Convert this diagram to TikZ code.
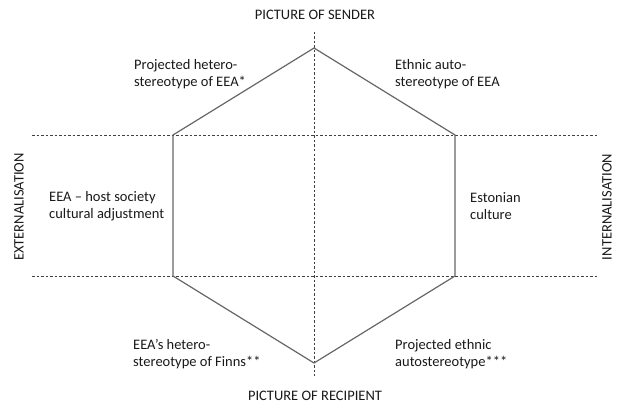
\documentclass[tikz,border=0pt]{standalone}
\usepackage{fontspec}
\setmainfont{Carlito}
\begin{document}
\begin{tikzpicture}[
                                x = 1pt,
                                y = -1pt,
                                font = \fontsize{14.5}{17}\selectfont,
                                text = black!90
                                ]

                                \tikzstyle{edge}=[
                                        draw = black!60,
                                        line width = 1.2pt
                                ]
                                \tikzstyle{guide}=[
                                        draw = black!75,
                                        line width = 0.8pt,
                                        dash pattern = on 2.5pt off 2pt
                                ]
                                \tikzstyle{txt}=[
                                        align = left,
                                        anchor = west,
                                        inner sep = 0pt
                                ]
                                \tikzstyle{pole}=[
                                        inner sep = 0pt
                                ]

                                \useasboundingbox (0,0) rectangle (617,406);

                                \coordinate (t) at (314,48);
                                \coordinate (tr) at (455,135);
                                \coordinate (br) at (455,276);
                                \coordinate (b) at (314,363);
                                \coordinate (bl) at (173,276);
                                \coordinate (tl) at (173,135);

                                \coordinate (v1) at (314,32);
                                \coordinate (v2) at (314,376);
                                \coordinate (h1) at (32,135);
                                \coordinate (h2) at (597,135);
                                \coordinate (h3) at (32,276);
                                \coordinate (h4) at (597,276);

                                \node[pole] (sender) at (315,15) {PICTURE OF SENDER};
                                \node[pole] (recipient) at (315,396) {PICTURE OF RECIPIENT};
                                \node[pole, rotate=90] (ext) at (19,207) {EXTERNALISATION};
                                \node[pole, rotate=90] (int) at (607,207) {INTERNALISATION};

                                \node[txt] (1) at (134,74) {Projected hetero-\\stereotype of EEA*};
                                \node[txt] (2) at (395,74) {Ethnic auto-\\stereotype of EEA};
                                \node[txt] (3) at (49,206) {EEA -- host society\\cultural adjustment};
                                \node[txt] (4) at (470,206) {Estonian\\culture};
                                \node[txt] (5) at (133,354) {EEA’s hetero-\\stereotype of Finns**};
                                \node[txt] (6) at (395,354) {Projected ethnic\\autostereotype***};

                                \draw[guide] (v1) -- (v2);
                                \draw[guide] (h1) -- (h2);
                                \draw[guide] (h3) -- (h4);

                                \draw[edge] (t) -- (tr) -- (br) -- (b) -- (bl) -- (tl) -- cycle;
                       \end{tikzpicture}
\end{document}
